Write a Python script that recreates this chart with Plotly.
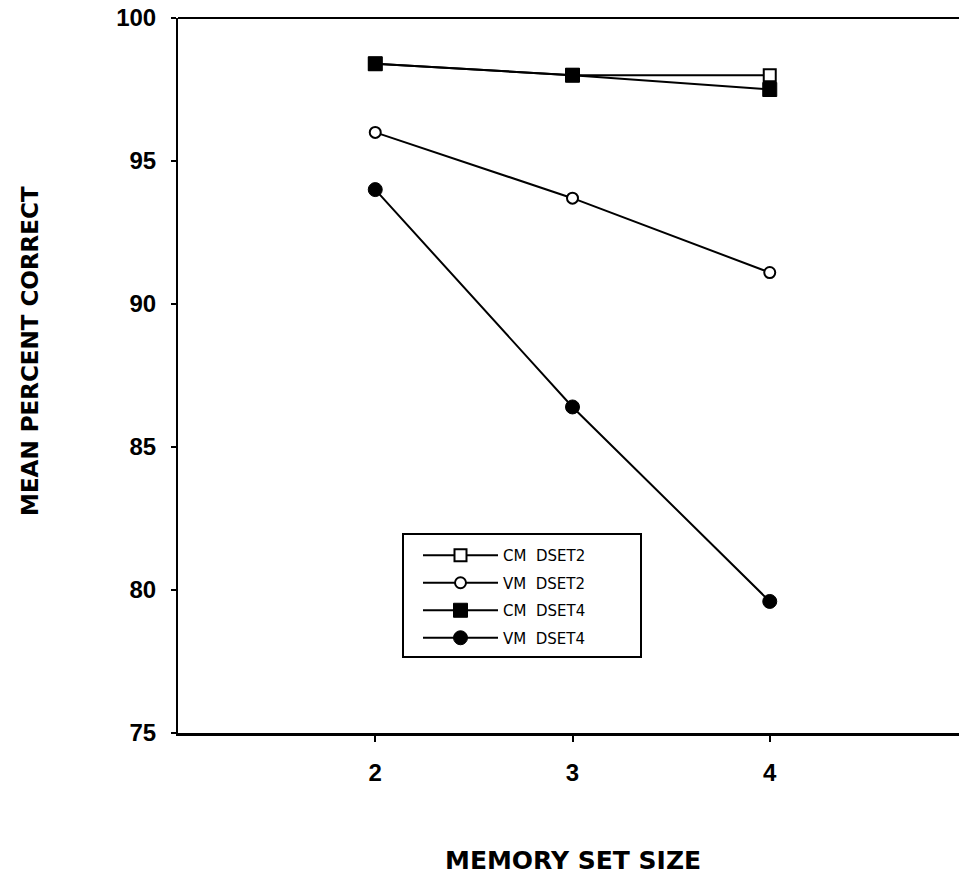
import plotly.graph_objects as go

set_size = [2, 3, 4]
cm_dset2 = [98.4, 98.0, 98.0]
vm_dset2 = [96.0, 93.7, 91.1]
cm_dset4 = [98.4, 98.0, 97.5]
vm_dset4 = [94.0, 86.4, 79.6]

x_ticks = [2, 3, 4]
y_ticks = [75, 80, 85, 90, 95, 100]

series = [
    ("CM  DSET2", cm_dset2, "square", "white", 12),
    ("VM  DSET2", vm_dset2, "circle", "white", 11),
    ("CM  DSET4", cm_dset4, "square", "black", 14),
    ("VM  DSET4", vm_dset4, "circle", "black", 14),
]

fig = go.Figure()
for i, (name, vals, sym, fill, sz) in enumerate(series):
    fig.add_trace(go.Scatter(
        x=set_size, y=vals, name=name, mode="lines+markers",
        line=dict(color="black", width=2),
        marker=dict(symbol=sym, size=sz, color=fill,
                    line=dict(color="black", width=2 if fill == "white" else 1)),
        legendgroup=f"g{i}",
    ))

tick_font = dict(family="Liberation Sans, Arial, sans-serif", size=24,
                 color="black", weight="bold")
xtitle_font = dict(family="DejaVu Sans, sans-serif", size=25, color="black",
                   weight="bold")
ytitle_font = dict(family="DejaVu Sans, sans-serif", size=23, color="black",
                   weight="bold")
legend_font = dict(family="DejaVu Sans, sans-serif", size=15, color="black")

# page body has an 8px margin; plot area spans pixels x 178..967, y 18..733
L, T, PW, PH = 170, 10, 789, 715
W, H = 959, 872

fig.update_layout(
    width=W, height=H,
    margin=dict(l=L, r=W - L - PW, t=T, b=H - T - PH, autoexpand=False),
    plot_bgcolor="white", paper_bgcolor="white",
    showlegend=True,
    legend=dict(x=(418 - 178) / PW, y=(733 - 539) / PH,
                xanchor="left", yanchor="top",
                borderwidth=0, bgcolor="rgba(0,0,0,0)",
                font=legend_font,
                itemwidth=75, tracegroupgap=5, traceorder="grouped"),
    xaxis=dict(range=[1, 5], tickvals=x_ticks, ticks="outside", ticklen=6,
               tickwidth=2, tickcolor="black", showline=True, linewidth=3,
               linecolor="black", showgrid=False, zeroline=False,
               tickfont=tick_font, ticklabelstandoff=10,
               ticklabeloverflow="allow", automargin=False),
    yaxis=dict(range=[75, 100], tickvals=y_ticks, ticks="outside", ticklen=5,
               tickwidth=2, tickcolor="black", showline=True, linewidth=2,
               linecolor="black", showgrid=False, zeroline=False,
               tickfont=tick_font, ticklabelstandoff=10,
               ticklabeloverflow="allow", automargin=False),
    annotations=[
        dict(text="MEMORY SET SIZE", x=0.5, y=-(861 - 733) / PH,
             xref="paper", yref="paper", xanchor="center", yanchor="middle",
             showarrow=False, font=xtitle_font),
        dict(text="MEAN PERCENT CORRECT", x=(30 - 178) / PW, y=(733 - 351) / PH,
             xref="paper", yref="paper", xanchor="center", yanchor="middle",
             showarrow=False, textangle=-90, font=ytitle_font),
    ],
)
# top frame line and legend box
fig.add_shape(type="line", xref="paper", yref="paper", x0=0, x1=1, y0=1, y1=1,
              line=dict(color="black", width=2))
fig.add_shape(type="rect", xref="paper", yref="paper",
              x0=(403 - 178) / PW, x1=(641 - 178) / PW,
              y0=(733 - 657) / PH, y1=(733 - 534) / PH,
              line=dict(color="black", width=2), fillcolor="rgba(0,0,0,0)")

fig.write_html("out.html")
